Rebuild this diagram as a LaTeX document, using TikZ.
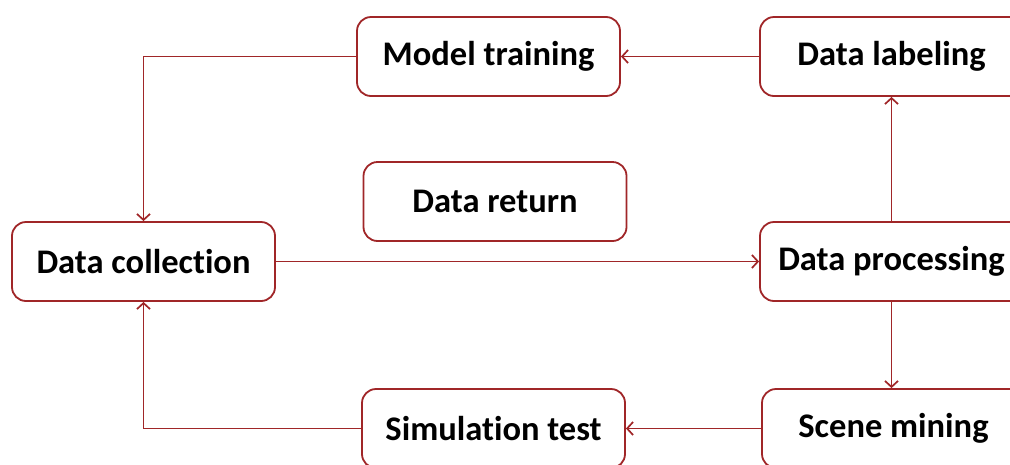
\documentclass[tikz,border=0pt]{standalone}
\usepackage{fontspec}
\setmainfont{Carlito}[Ligatures=NoCommon]
\usetikzlibrary{arrows.meta,positioning}
\definecolor{linered}{RGB}{160,38,40}

\begin{document}
\begin{tikzpicture}[x=1pt, y=-1pt,
    box/.style={draw=linered, line width=1.8pt, rounded corners=14pt,
                minimum width=263pt, minimum height=79pt,
                font=\fontsize{34.5}{40}\selectfont\bfseries},
    flow/.style={draw=linered, line width=1.7pt, -{Straight Barb[length=6pt,width=13pt]}}]
      \useasboundingbox (0,0) rectangle (1010,464);
      \clip (0,0) rectangle (1010,464);
      % boxes
      \node[box] (train) at (488.5,56.5) {Model training};
      \node[box] (label) at (891.5,56.5) {Data labeling};
      \node[box] (ret) at (495,201.5) {Data return};
      \node[box] (collect) at (143.5,261.5) {Data collection};
      \node[box] (proc) at (891.5,261.5) {Data processing};
      \node[box] (sim) at (493.5,428.5) {Simulation test};
      \node[box] (mine) at (893.5,428.5) {Scene mining};
      % connectors
      \draw[flow] (label) -- (train);
      \draw[flow] (train.west) -| (collect.north);
      \draw[flow] (collect) -- (proc);
      \draw[flow] (proc.north) -- (label.south);
      \draw[flow] (proc.south) -- (proc.south |- mine.north);
      \draw[flow] (mine) -- (sim);
      \draw[flow] (sim.west) -| (collect.south);
\end{tikzpicture}
\end{document}
